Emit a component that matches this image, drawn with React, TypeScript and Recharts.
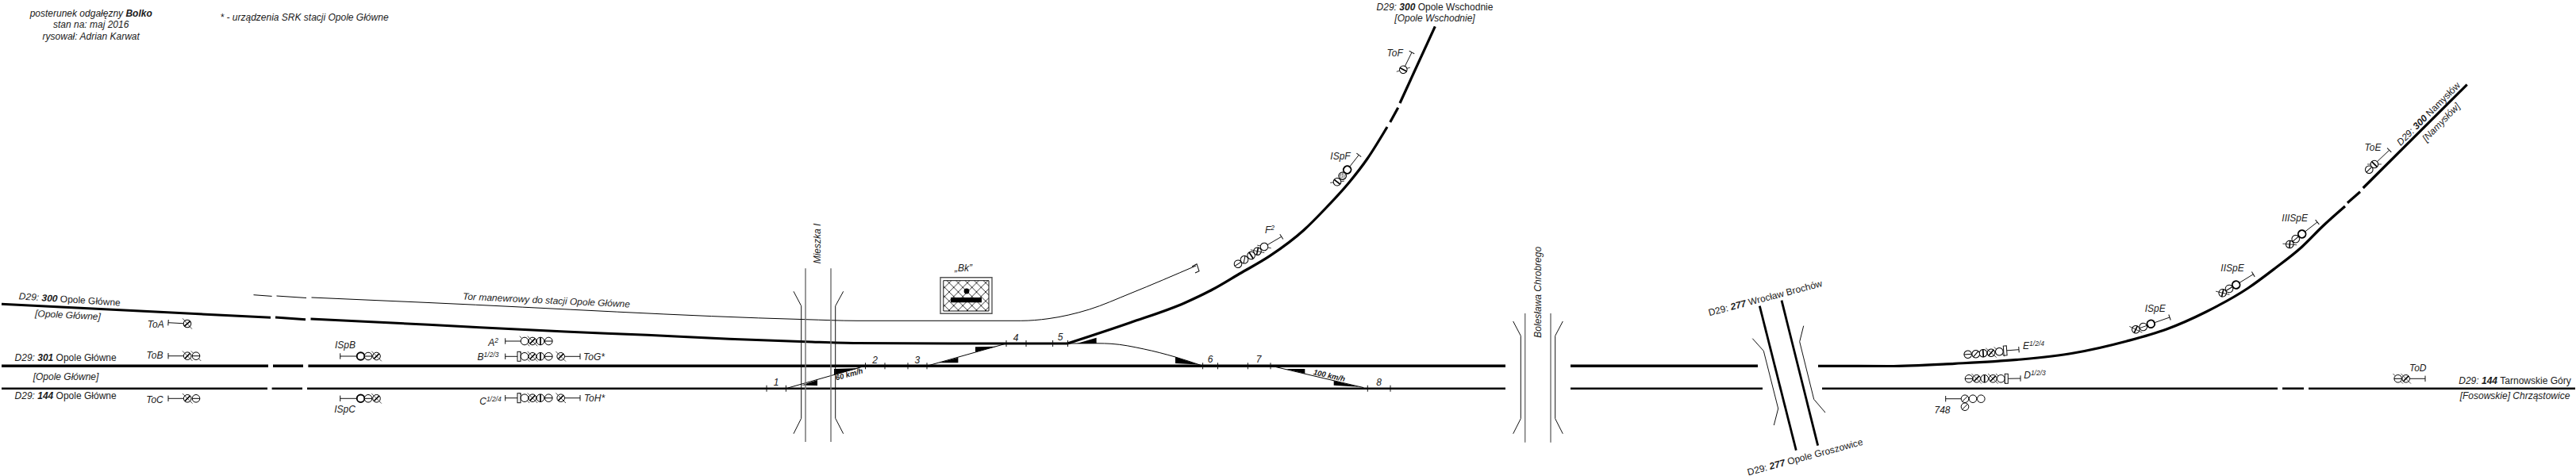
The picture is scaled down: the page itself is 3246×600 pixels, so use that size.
import React from 'react';
import { ComposedChart, XAxis, YAxis, Line, Area, Scatter, ReferenceArea, ReferenceDot } from 'recharts';

type Pt = [number, number];

const mainUpper: Pt[][] = [
  [[2, 461.3], [338, 461.3]],
  [[344, 461.3], [382, 461.3]],
  [[388.4, 461.3], [1897, 461.3]],
  [[1979, 461.3], [2215, 461.3]],
];
const mainLower: Pt[][] = [
  [[2, 489.7], [337, 489.7]],
  [[342.6, 489.7], [381, 489.7]],
  [[387, 489.7], [1897, 489.7]],
  [[1979, 489.7], [2221, 489.7]],
  [[2296, 489.7], [2870, 489.7]],
  [[2876, 489.7], [2903, 489.7]],
  [[2909, 489.7], [3245, 489.7]],
];
const line300West: Pt[][] = [
  [[2, 383.3], [341, 400.3]],
  [[347, 400], [385, 402.7]],
  [[391.5, 402], [540, 409.3], [712, 418], [815.5, 422.3], [919, 427.3], [1015, 430.7], [1080, 432.5], [1200, 433], [1345, 433]],
];
const line300East: Pt[][] = [
  [[1345, 433], [1424, 406.7], [1493, 381.7], [1527.7, 365], [1562, 345], [1600, 322.7], [1643, 290], [1670, 263], [1700, 230], [1723, 200], [1748, 160]],
  [[1751.7, 154], [1761.7, 135.7]],
  [[1764, 130], [1808.3, 33.3]],
];
const line300Namyslow: Pt[][] = [
  [[2291, 461.3], [2380, 461.5], [2463, 458.3], [2547, 453], [2613, 445], [2680, 430], [2730, 415], [2780, 393], [2833, 363], [2867, 338], [2900, 311.7], [2927, 285], [2955, 260]],
  [[2958, 255.7], [2974, 241.7]],
  [[2977.7, 237], [3108.7, 106.7]],
];
const bridge277: Pt[][] = [
  [[2217.3, 385.7], [2263.3, 567.7]],
  [[2245, 378.7], [2290.7, 561.7]],
];
const shuntTrack: Pt[][] = [
  [[319.5, 371.7], [342.6, 373.4]],
  [[348.5, 373], [386, 375.5]],
  [[392.5, 375], [540, 381.5], [1015, 402.7], [1080, 404.3], [1286.6, 404.3], [1321, 401.7], [1372.7, 390], [1424, 370], [1507, 335]],
];
const bufferStop: Pt[] = [[1502, 336], [1508, 332.7], [1511, 341.7], [1506, 344]];
const crossovers: Pt[][] = [
  [[990.4, 489.7], [1090, 461.3]],
  [[1168, 461.3], [1268, 433]],
  [[1345, 433], [1383, 432.8], [1400, 433.3], [1441.6, 440], [1481, 450], [1515, 461]],
  [[1601, 461], [1718.3, 488.6]],
];
const roadPosts: Pt[][] = [
  [[1015, 338.3], [1015, 557]],
  [[1047, 338.3], [1047, 557]],
  [[1921.7, 395], [1921.7, 557.7]],
  [[1954, 395], [1954, 557.7]],
];
const roadWings: Pt[][] = [
  [[1000, 367.3], [1009.7, 385.7], [1009.7, 527.3], [1000, 546.7]],
  [[1062.7, 367.3], [1052.7, 385.7], [1052.7, 527.3], [1062.7, 546.7]],
  [[1906.7, 405], [1916.3, 423.3], [1916.3, 527.7], [1906.7, 546.7]],
  [[1969.3, 405], [1959.7, 423.3], [1959.7, 527.7], [1969.3, 546.7]],
  [[2208.3, 426.7], [2222.3, 442.3], [2240.7, 515], [2235.3, 536]],
  [[2272.7, 410.7], [2267.7, 430.7], [2285.7, 503.3], [2300, 520]],
];
// [x, low y, high y] at both ends of each black wedge
const wedges: [number, number, number][][] = [
  [[1010, 485.5, 485.5], [1030, 479, 486]],
  [[1051, 465, 472.7], [1083, 464, 464]],
  [[1183, 457.3, 457.3], [1207.4, 450.7, 457.3]],
  [[1229, 437.3, 443.7], [1255.6, 436.7, 436.7]],
  [[1357, 433, 433], [1381.6, 425.7, 433]],
  [[1481, 450, 458], [1510, 459.5, 459.5]],
  [[1620, 465, 465], [1644.3, 465, 471]],
  [[1680.7, 480, 485.7], [1713, 487.7, 487.7]],
];
const tickUpperX = [1090.5, 1115, 1144, 1168, 1515.6, 1534.5, 1572.4, 1601];
const tickMiddleX = [1268, 1293, 1326.6, 1345.5];
const tickLowerX = [966, 990.4, 1723.3, 1752];

// S slash+cross, s slash, x plain+cross, o plain, O heavy, v bar, V bar+cross, h bar, H bar+cross, # hatched, b box
type Signal = { angle: number; stop: Pt; lamps: [string, number, number][] };
const signals: Signal[] = [
  { angle: 3.5, stop: [212, 406.7], lamps: [['S', 236, 408]] },
  { angle: 0, stop: [212, 448.7], lamps: [['S', 236.2, 448.7], ['H', 247, 448.7]] },
  { angle: 0, stop: [212, 502.3], lamps: [['S', 236.2, 502.3], ['h', 247, 502.3]] },
  { angle: 0, stop: [428.7, 449], lamps: [['O', 454.5, 449], ['h', 464, 449], ['S', 474.5, 449]] },
  { angle: 0, stop: [428.7, 502.3], lamps: [['O', 454.5, 502.3], ['h', 464, 502.3], ['S', 474.5, 502.3]] },
  { angle: 0, stop: [636.7, 430], lamps: [['x', 661, 430], ['S', 671, 430], ['v', 681, 430], ['h', 691.3, 430]] },
  { angle: 0, stop: [636.7, 449.3], lamps: [['b', 654, 449.3], ['x', 661, 449.3], ['S', 671, 449.3], ['v', 681, 449.3], ['h', 691.3, 449.3]] },
  { angle: 0, stop: [636.7, 501.7], lamps: [['b', 654, 501.7], ['x', 661, 501.7], ['S', 671, 501.7], ['v', 681, 501.7], ['h', 691.3, 501.7]] },
  { angle: 0, stop: [731, 449.3], lamps: [['S', 706.7, 449.3]] },
  { angle: 0, stop: [731, 501.7], lamps: [['S', 706.7, 501.7]] },
  { angle: -33, stop: [1614.8, 298.3], lamps: [['x', 1593, 311], ['S', 1584.5, 316.7], ['v', 1576.6, 322], ['s', 1568, 327.3], ['h', 1560, 332.7]] },
  { angle: -62, stop: [1779, 66], lamps: [['V', 1768.3, 87.7]] },
  { angle: -52, stop: [1712.3, 195.3], lamps: [['O', 1697.7, 214], ['#', 1691.7, 221.7], ['V', 1685, 229.3]] },
  { angle: -4, stop: [2544, 440.7], lamps: [['b', 2526.7, 442], ['x', 2519.3, 443.3], ['S', 2509, 444.7], ['v', 2499, 445.3], ['s', 2489.7, 446.3], ['h', 2479.7, 446.7]] },
  { angle: 0, stop: [2546, 477], lamps: [['b', 2528.3, 477.3], ['x', 2521.3, 477.3], ['S', 2511.3, 477.3], ['v', 2500.7, 477.3], ['S', 2490.7, 477.3], ['h', 2481, 477.3]] },
  { angle: 0, stop: [2451.7, 502.7], lamps: [['s', 2476, 502.7], ['o', 2486, 502.7], ['o', 2496.3, 502.7]] },
  { angle: -19.5, stop: [2734, 400], lamps: [['O', 2710.3, 408.3], ['h', 2700.7, 412], ['S', 2691.3, 415.3]] },
  { angle: -31, stop: [2839.3, 345.7], lamps: [['O', 2817.7, 359], ['h', 2809, 364], ['S', 2800.7, 369.3]] },
  { angle: -40, stop: [2920, 280], lamps: [['O', 2900.7, 295], ['h', 2892.7, 301.3], ['S', 2885.3, 308]] },
  { angle: -45, stop: [3010.7, 189.3], lamps: [['V', 2992, 207], ['h', 2985.3, 213.7]] },
  { angle: 0, stop: [3056, 477.3], lamps: [['S', 3031.7, 477.3], ['H', 3021.7, 477.3]] },
];
const extraLamps: [string, number, number][] = [['s', 2476, 512.7]];

// *x* bold, ~x~ upright, ^x^ superscript
type Label = { text: string; x: number; y: number; angle?: number; bold?: boolean; size?: number };
const labels: Label[] = [
  { text: 'posterunek odgałęzny *Bolko*', x: 114.7, y: 16.5 },
  { text: 'stan na: maj 2016', x: 114.7, y: 31 },
  { text: 'rysował: Adrian Karwat', x: 114.7, y: 45.5 },
  { text: '* - urządzenia SRK stacji Opole Główne', x: 383.5, y: 21.5 },
  { text: 'D29: *300* ~Opole Główne~', x: 87.8, y: 377.3, angle: 3.7 },
  { text: '[Opole Główne]', x: 85.5, y: 397, angle: 3 },
  { text: 'D29: *301* ~Opole Główne~', x: 82.6, y: 451 },
  { text: '[Opole Główne]', x: 83, y: 475 },
  { text: 'D29: *144* ~Opole Główne~', x: 82.6, y: 498.7 },
  { text: 'ToA', x: 196.3, y: 408.3 },
  { text: 'ToB', x: 195, y: 447.3 },
  { text: 'ToC', x: 195, y: 504 },
  { text: 'ISpB', x: 435, y: 434.3 },
  { text: 'ISpC', x: 434.5, y: 515.7 },
  { text: 'Tor manewrowy do stacji Opole Główne', x: 688.5, y: 378.3, angle: 2.7 },
  { text: 'A^2^', x: 621.5, y: 431.7 },
  { text: 'B^1/2/3^', x: 615, y: 449.5 },
  { text: 'C^1/2/4^', x: 618, y: 505.7 },
  { text: 'ToG*', x: 748.5, y: 449.5 },
  { text: 'ToH*', x: 749, y: 502 },
  { text: 'Mieszka I', x: 1030, y: 307, angle: -90 },
  { text: '1', x: 978, y: 482 },
  { text: '2', x: 1102.7, y: 454 },
  { text: '3', x: 1155.8, y: 454 },
  { text: '4', x: 1280, y: 425.7 },
  { text: '5', x: 1336, y: 425 },
  { text: '6', x: 1525, y: 452.7 },
  { text: '7', x: 1586, y: 452.7 },
  { text: '8', x: 1737.7, y: 481.7 },
  { text: '60 km/h', x: 1070, y: 471.7, angle: -15, bold: true, size: 9.5 },
  { text: '100 km/h', x: 1675, y: 473.3, angle: 13, bold: true, size: 9.5 },
  { text: '„Bk”', x: 1214, y: 337.7 },
  { text: 'F^2^', x: 1600, y: 290 },
  { text: 'ToF', x: 1757.7, y: 66.7 },
  { text: 'ISpF', x: 1689, y: 196.3 },
  { text: 'D29: *300* ~Opole Wschodnie~', x: 1808, y: 9 },
  { text: '[Opole Wschodnie]', x: 1808, y: 22.3 },
  { text: 'Bolesława Chrobrego', x: 1937.3, y: 368.3, angle: -90 },
  { text: '~D29:~ *277* ~Wrocław Brochów~', x: 2224.4, y: 375.5, angle: -14.7 },
  { text: '~D29:~ *277* ~Opole Groszowice~', x: 2274.5, y: 576, angle: -15 },
  { text: 'E^1/2/4^', x: 2562.5, y: 436 },
  { text: 'D^1/2/3^', x: 2564, y: 473 },
  { text: '748', x: 2447.5, y: 516.7 },
  { text: 'ISpE', x: 2715.7, y: 388.3 },
  { text: 'IISpE', x: 2813, y: 337.7 },
  { text: 'IIISpE', x: 2891.7, y: 274.3 },
  { text: 'ToE', x: 2990, y: 185.7 },
  { text: 'D29: *300* ~Namysłów~', x: 3060, y: 143.3, angle: -45 },
  { text: '[Namysłów]', x: 3076, y: 154, angle: -46 },
  { text: 'ToD', x: 3046.7, y: 463.3 },
  { text: 'D29: *144* ~Tarnowskie Góry~', x: 3169, y: 479.3 },
  { text: '[Fosowskie] Chrząstowice', x: 3169, y: 498.3 },
];

const toXY = (pts: Pt[]) => pts.map(([x, y]) => ({ x, y }));
const R = 4.8;

const LampShape = (props: any) => {
  const { cx, cy, payload } = props;
  const { kind, angle } = payload;
  const k = R * 0.71;
  if (kind === 'b') {
    return <rect x={-2} y={-6} width={4} height={12} fill="#fff" stroke="#111" strokeWidth={1} transform={`translate(${cx} ${cy}) rotate(${angle})`} />;
  }
  const crossed = 'SxVH'.includes(kind);
  return (
    <g transform={`translate(${cx} ${cy}) rotate(${angle})`} stroke="#000" fill="none">
      <circle r={R} fill={kind === '#' ? 'url(#lampHatch)' : '#fff'} strokeWidth={kind === 'O' ? 1.9 : 1} />
      {crossed && kind === 'S' && <line x1={-6.3} y1={-6.3} x2={6.3} y2={6.3} strokeWidth={0.7} />}
      {crossed && kind !== 'S' && (
        <>
          <line x1={-6.3} y1={-6.3} x2={-k} y2={-k} strokeWidth={0.7} />
          <line x1={k} y1={k} x2={6.3} y2={6.3} strokeWidth={0.7} />
        </>
      )}
      {'Ss'.includes(kind) && <line x1={-k} y1={k} x2={k} y2={-k} strokeWidth={kind === 'S' ? 1.6 : 1} />}
      {'vV'.includes(kind) && <line x1={0} y1={-R} x2={0} y2={R} strokeWidth={1.7} />}
      {'hH'.includes(kind) && <line x1={-R} y1={0} x2={R} y2={0} strokeWidth={1} />}
    </g>
  );
};

const BarMark = (props: any) => {
  const { cx, cy, payload } = props;
  const h = payload.half ?? 3.7;
  return <line x1={0} y1={-h} x2={0} y2={h} stroke="#111" strokeWidth={1} transform={`translate(${cx} ${cy}) rotate(${payload.angle ?? 0})`} />;
};

const renderText = (text: string) =>
  text.split(/(\*[^*]+\*|\^[^^]+\^|~[^~]+~)/).filter(Boolean).map((p, i) => {
    if (p.length > 2 && p[0] === '*' && p.endsWith('*')) return <tspan key={i} fontWeight="bold">{p.slice(1, -1)}</tspan>;
    if (p[0] === '~') return <tspan key={i} fontStyle="normal">{p.slice(1, -1)}</tspan>;
    if (p[0] === '^') return <tspan key={i} fontSize={8.5} dy={-4}>{p.slice(1, -1)}</tspan>;
    return <tspan key={i}>{p}</tspan>;
  });

const LabelMark = (props: any) => {
  const { cx, cy, payload } = props;
  return (
    <text
      transform={`translate(${cx} ${cy}) rotate(${payload.angle ?? 0})`}
      dy="0.35em"
      textAnchor="middle"
      fontFamily="'Liberation Sans', Arial, sans-serif"
      fontStyle="italic"
      fontWeight={payload.bold ? 'bold' : 'normal'}
      fontSize={payload.size ?? 12}
      fill="#1a1a1a"
    >
      {renderText(payload.text)}
    </text>
  );
};

const pathGroups: { paths: Pt[][]; width: number; color: string; curve: 'monotone' | 'linear' }[] = [
  { paths: mainUpper, width: 3.5, color: '#000', curve: 'linear' },
  { paths: mainLower, width: 2.6, color: '#000', curve: 'linear' },
  { paths: line300West, width: 3, color: '#000', curve: 'monotone' },
  { paths: line300East, width: 3.2, color: '#000', curve: 'monotone' },
  { paths: line300Namyslow, width: 3.2, color: '#000', curve: 'monotone' },
  { paths: bridge277, width: 2.8, color: '#000', curve: 'linear' },
  { paths: shuntTrack, width: 1, color: '#000', curve: 'monotone' },
  { paths: [bufferStop], width: 1.1, color: '#111', curve: 'linear' },
  { paths: crossovers, width: 1, color: '#000', curve: 'monotone' },
  { paths: roadPosts, width: 1.5, color: '#777', curve: 'linear' },
  { paths: roadWings, width: 1, color: '#111', curve: 'linear' },
];

const stems = signals.map((s) => [s.stop, [s.lamps[0][1], s.lamps[0][2]] as Pt]);
const lampData = [
  ...signals.flatMap((s) => s.lamps.map(([kind, x, y]) => ({ kind, x, y, angle: s.angle }))),
  ...extraLamps.map(([kind, x, y]) => ({ kind, x, y, angle: 0 })),
];
const markData = [
  ...signals.map((s) => ({ x: s.stop[0], y: s.stop[1], angle: s.angle })),
  ...tickUpperX.map((x) => ({ x, y: 461.3, half: 4 })),
  ...tickMiddleX.map((x) => ({ x, y: 433, half: 4 })),
  ...tickLowerX.map((x) => ({ x, y: 489.7, half: 4 })),
];

export default function App() {
  return (
    <div style={{ position: 'absolute', left: 0, top: 0, width: 3246, height: 600, background: '#fff' }}>
      <ComposedChart width={3246} height={600} margin={{ top: 0, right: 0, bottom: 0, left: 0 }}>
        <defs>
          <pattern id="bkLattice" width={11.5} height={11.5} patternUnits="userSpaceOnUse">
            <path d="M0 0L11.5 11.5M11.5 0L0 11.5" stroke="#000" strokeWidth={0.8} />
          </pattern>
          <pattern id="lampHatch" width={3} height={3} patternUnits="userSpaceOnUse">
            <rect width={3} height={3} fill="#fff" />
            <path d="M0 3L3 0" stroke="#000" strokeWidth={0.8} />
          </pattern>
        </defs>
        <XAxis type="number" dataKey="x" domain={[0, 3246]} hide allowDataOverflow />
        <YAxis type="number" dataKey="y" domain={[0, 600]} reversed hide allowDataOverflow />

        {wedges.map((w, i) => (
          <Area
            key={`wedge-${i}`}
            data={w.map(([x, lo, hi]) => ({ x, y: [lo, hi] }))}
            dataKey="y"
            type="linear"
            stroke="none"
            fill="#000"
            fillOpacity={1}
            dot={false}
            activeDot={false}
            isAnimationActive={false}
          />
        ))}

        {pathGroups.flatMap((g, i) =>
          g.paths.map((p, j) => (
            <Line
              key={`path-${i}-${j}`}
              data={toXY(p)}
              dataKey="y"
              type={g.curve}
              stroke={g.color}
              strokeWidth={g.width}
              dot={false}
              activeDot={false}
              isAnimationActive={false}
            />
          ))
        )}
        {stems.map((p, i) => (
          <Line key={`stem-${i}`} data={toXY(p)} dataKey="y" type="linear" stroke="#111" strokeWidth={1} dot={false} activeDot={false} isAnimationActive={false} />
        ))}

        <ReferenceArea x1={1185} x2={1250} y1={349.7} y2={395.3} fill="#fff" fillOpacity={1} stroke="#555" strokeWidth={1.4} />
        <ReferenceArea x1={1188.8} x2={1246} y1={353.7} y2={392} fill="url(#bkLattice)" fillOpacity={1} stroke="#111" strokeWidth={1} />
        <ReferenceArea x1={1198} x2={1237} y1={375} y2={381.3} fill="#000" fillOpacity={1} stroke="none" />
        <ReferenceDot x={1218} y={367} r={3.4} fill="#000" stroke="none" />

        <Scatter data={markData} shape={BarMark} isAnimationActive={false} />
        <Scatter data={lampData} shape={LampShape} isAnimationActive={false} />
        <Scatter data={labels} shape={LabelMark} isAnimationActive={false} />
      </ComposedChart>
    </div>
  );
}
